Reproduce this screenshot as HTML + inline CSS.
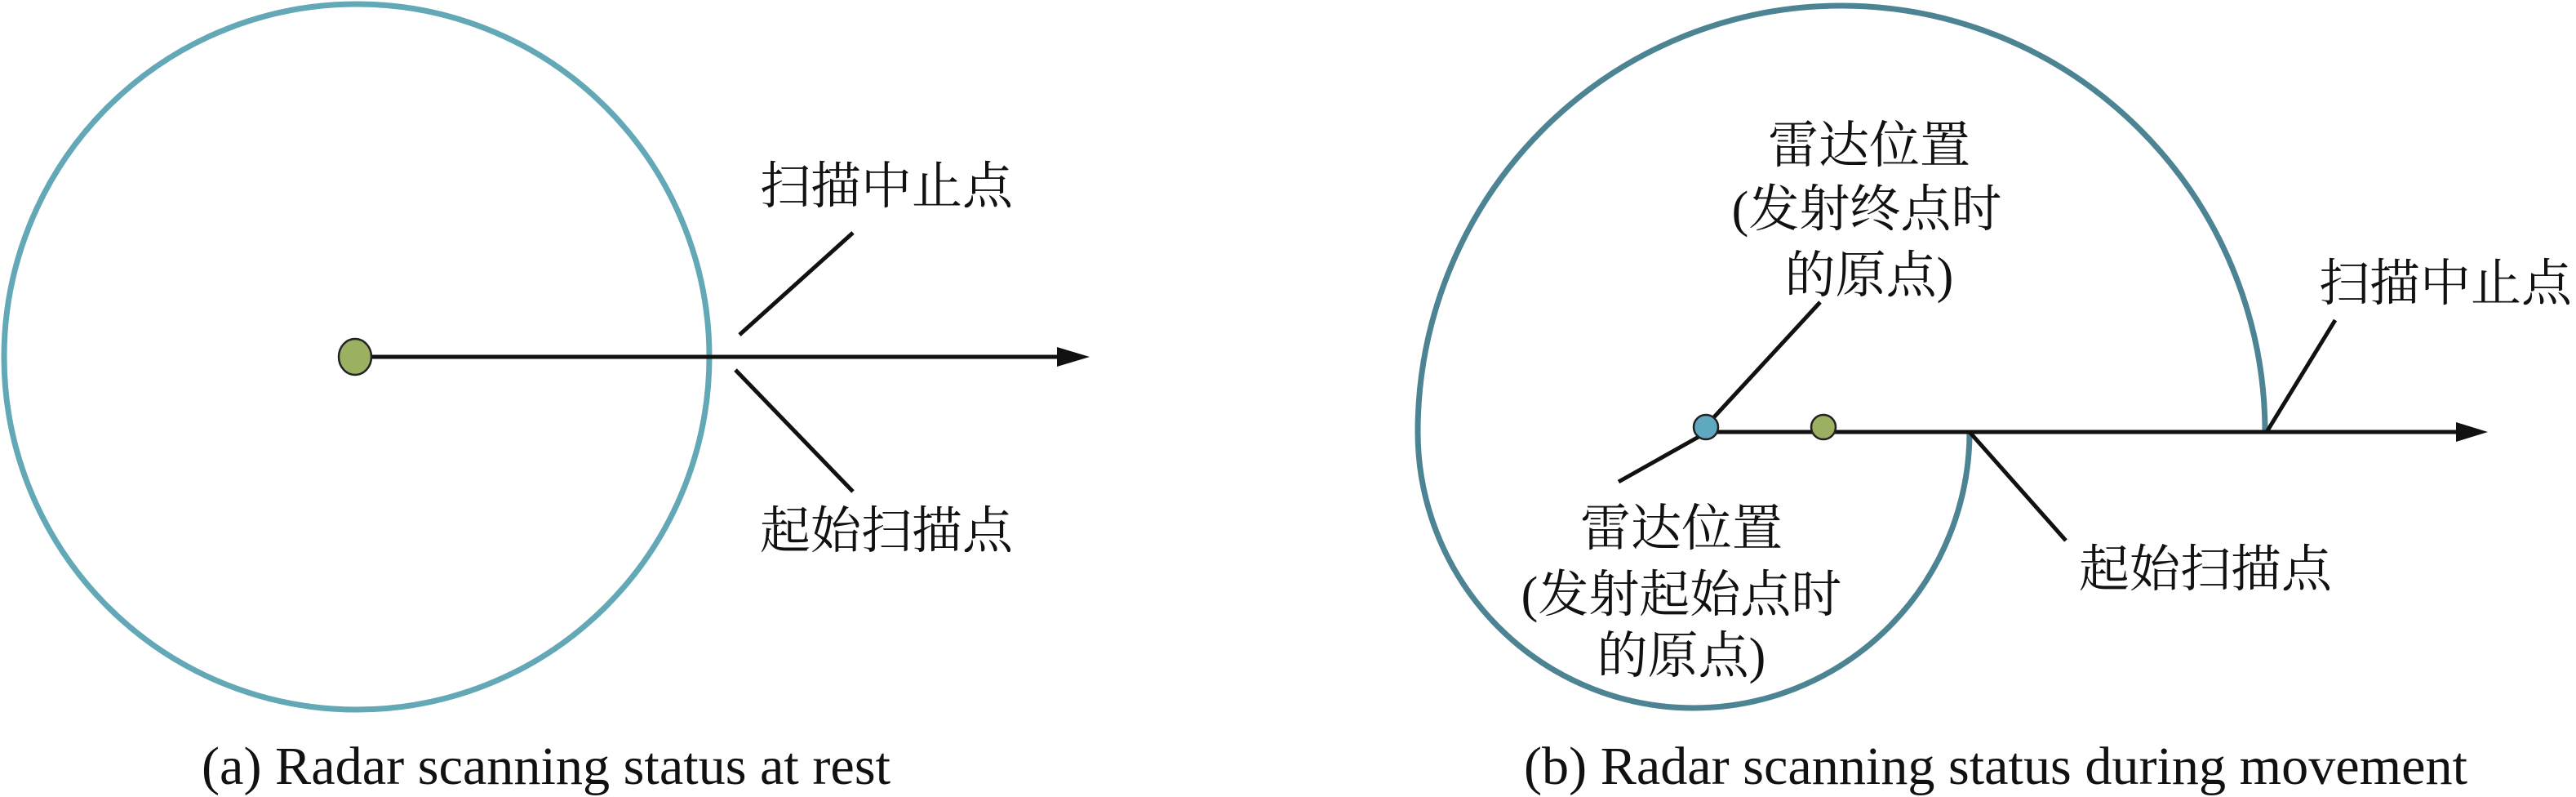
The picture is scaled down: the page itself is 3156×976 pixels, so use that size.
<!DOCTYPE html>
<html><head><meta charset="utf-8"><style>
html,body{margin:0;padding:0;background:#fff;}
svg{display:block;}
.cj{font-family:"Liberation Serif","Noto Serif CJK SC",serif;font-size:62px;fill:#111;}
.cap{font-family:"Liberation Serif",serif;font-size:66px;fill:#111;}
</style></head><body>
<svg width="3156" height="976" viewBox="0 0 3156 976" xmlns="http://www.w3.org/2000/svg">
<!-- panel a -->
<circle cx="437" cy="437" r="432" fill="none" stroke="#62a8b6" stroke-width="7"/>
<line x1="437" y1="437" x2="1300" y2="437" stroke="#111" stroke-width="5"/>
<polygon points="1295,425 1335,437 1295,449" fill="#111"/>
<ellipse cx="435" cy="437" rx="20" ry="22" fill="#9bb061" stroke="#222" stroke-width="2.5"/>
<line x1="906" y1="410" x2="1045" y2="285" stroke="#111" stroke-width="5"/>
<line x1="901" y1="453" x2="1045" y2="602" stroke="#111" stroke-width="5"/>
<text class="cj" x="1086" y="249" text-anchor="middle">扫描中止点</text>
<text class="cj" x="1086" y="671" text-anchor="middle">起始扫描点</text>
<text class="cap" x="247" y="960" textLength="844" lengthAdjust="spacingAndGlyphs">(a) Radar scanning status at rest</text>
<!-- panel b -->
<path d="M2413,529 A338,338 0 0 1 1737,529 A519,522 0 0 1 2775,529" fill="none" stroke="#4d8494" stroke-width="7"/>
<line x1="2090" y1="529" x2="3012" y2="529" stroke="#111" stroke-width="5"/>
<polygon points="3009,517 3048,529 3009,541" fill="#111"/>
<line x1="2097" y1="514" x2="2230" y2="370" stroke="#111" stroke-width="5"/>
<line x1="2081" y1="535" x2="1983" y2="590" stroke="#111" stroke-width="5"/>
<line x1="2413" y1="529" x2="2531" y2="662" stroke="#111" stroke-width="5"/>
<line x1="2777" y1="529" x2="2861" y2="392" stroke="#111" stroke-width="5"/>
<circle cx="2090" cy="523" r="15" fill="#5ea9bf" stroke="#222" stroke-width="2.5"/>
<circle cx="2234" cy="523" r="15" fill="#9bb061" stroke="#222" stroke-width="2.5"/>
<text class="cj" x="2290" y="199" text-anchor="middle">雷达位置</text>
<text class="cj" x="2287" y="277" text-anchor="middle">(发射终点时</text>
<text class="cj" x="2290" y="358" text-anchor="middle">的原点)</text>
<text class="cj" x="2996" y="368" text-anchor="middle">扫描中止点</text>
<text class="cj" x="2702" y="718" text-anchor="middle">起始扫描点</text>
<text class="cj" x="2060" y="668" text-anchor="middle">雷达位置</text>
<text class="cj" x="2060" y="749" text-anchor="middle">(发射起始点时</text>
<text class="cj" x="2060" y="824" text-anchor="middle">的原点)</text>
<text class="cap" x="1867" y="960" textLength="1156" lengthAdjust="spacingAndGlyphs">(b) Radar scanning status during movement</text>
</svg>
</body></html>
